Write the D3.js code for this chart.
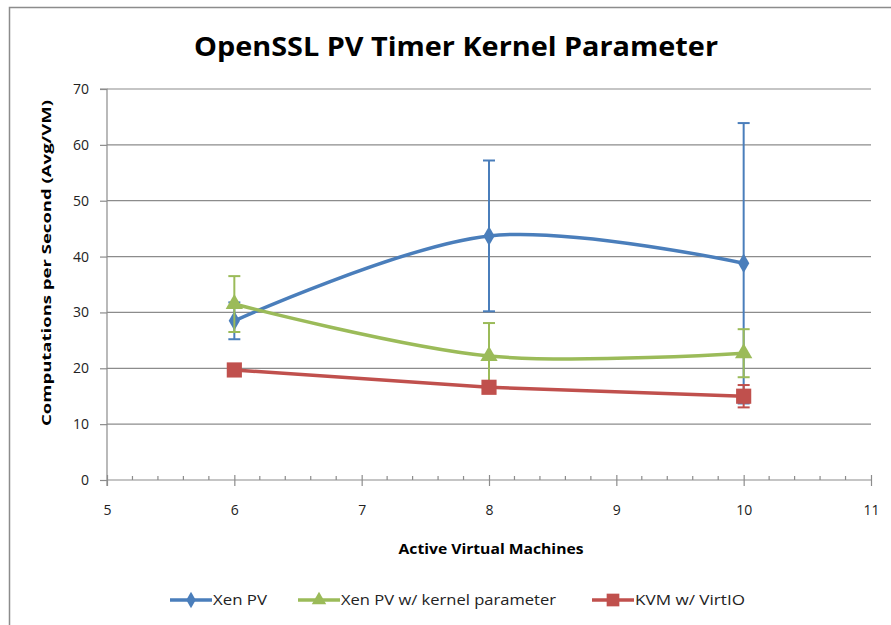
<!DOCTYPE html>
<html>
<head>
<meta charset="utf-8">
<script src="https://cdn.jsdelivr.net/npm/d3@7"></script>
<style>
  body { margin: 0; background: #fff; }
  text { font-family: "Open Sans", "Liberation Sans", sans-serif; }
</style>
</head>
<body>
<svg id="chart" width="891" height="625"></svg>
<script>
// data
const vmCounts = [6, 8, 10];
const xenPV = [28.5, 43.7, 38.8];
const xenPVErr = [3.3, 13.5, 25.1];
const xenKernel = [31.5, 22.2, 22.7];
const xenKernelErr = [5.0, 5.9, 4.3];
const kvmVirtio = [19.7, 16.6, 15.0];
const kvmVirtioErr = [0.5, 0.8, 2.0];
const xTicks = [5, 6, 7, 8, 9, 10, 11];
const yTicks = [0, 10, 20, 30, 40, 50, 60, 70];

const series = [
  { name: 'Xen PV', values: xenPV, err: xenPVErr, color: '#4a7ebb', marker: 'diamond', smooth: true },
  { name: 'Xen PV w/ kernel parameter', values: xenKernel, err: xenKernelErr, color: '#9bbb59', marker: 'triangle', smooth: true },
  { name: 'KVM w/ VirtIO', values: kvmVirtio, err: kvmVirtioErr, color: '#c0504d', marker: 'square', smooth: false }
];

const svg = d3.select('#chart');
const margin = { left: 107, right: 20, top: 89, bottom: 145 };
const width = 871 - 107;
const height = 480 - 89;

// outer chart frame (cropped on right and bottom)
svg.append('path')
  .attr('d', 'M9.5,625 L9.5,7.5 L891,7.5')
  .attr('fill', 'none')
  .attr('stroke', '#8c8c8c')
  .attr('stroke-width', 1.5);

svg.append('text')
  .attr('x', 456).attr('y', 56)
  .attr('text-anchor', 'middle')
  .attr('font-size', 27).attr('font-weight', 'bold')
  .attr('textLength', 524).attr('lengthAdjust', 'spacingAndGlyphs')
  .text('OpenSSL PV Timer Kernel Parameter');

const g = svg.append('g').attr('transform', `translate(${margin.left},${margin.top})`);

const x = d3.scaleLinear().domain([5, 11]).range([0, width]);
const y = d3.scaleLinear().domain([0, 70]).range([height, 0]);

// gridlines
g.append('g')
  .selectAll('line')
  .data(yTicks.filter(d => d > 0))
  .join('line')
  .attr('x1', 0).attr('x2', width)
  .attr('y1', d => y(d)).attr('y2', d => y(d))
  .attr('stroke', '#8c8c8c').attr('stroke-width', 1.2);

// y axis
const yAxis = g.append('g')
  .call(d3.axisLeft(y).tickValues(yTicks).tickSize(7).tickPadding(11));
yAxis.select('.domain').attr('stroke', '#8c8c8c').attr('stroke-width', 1.2)
  .attr('d', `M-7,${y(70)}H0V${height + 6}`);
yAxis.selectAll('.tick line').attr('stroke', '#8c8c8c').attr('stroke-width', 1.2);
yAxis.selectAll('.tick text').attr('font-size', 14).attr('fill', '#222').attr('font-family', '"Open Sans", sans-serif');

// x axis: minor ticks upward, major ticks crossing
const minor = d3.range(5, 11.001, 0.2).filter(v => Math.abs(v - Math.round(v)) > 0.01);
g.append('g').selectAll('line').data(minor).join('line')
  .attr('x1', d => x(d)).attr('x2', d => x(d))
  .attr('y1', height - 4).attr('y2', height)
  .attr('stroke', '#8c8c8c').attr('stroke-width', 1.2);

const xAxis = g.append('g')
  .attr('transform', `translate(0,${height})`)
  .call(d3.axisBottom(x).tickValues(xTicks).tickSize(6).tickPadding(19).tickFormat(d3.format('d')));
xAxis.select('.domain').attr('stroke', '#8c8c8c').attr('stroke-width', 1.2).attr('d', `M0,0H${width}`);
xAxis.selectAll('.tick line').attr('stroke', '#8c8c8c').attr('stroke-width', 1.2).attr('y1', -5);
xAxis.selectAll('.tick text').attr('font-size', 14).attr('fill', '#222').attr('font-family', '"Open Sans", sans-serif');

// axis titles
svg.append('text')
  .attr('x', 491).attr('y', 554)
  .attr('text-anchor', 'middle')
  .attr('font-size', 14.5).attr('font-weight', 'bold')
  .attr('textLength', 185).attr('lengthAdjust', 'spacingAndGlyphs')
  .text('Active Virtual Machines');

svg.append('text')
  .attr('transform', 'translate(51,263) rotate(-90)')
  .attr('text-anchor', 'middle')
  .attr('font-size', 12.5).attr('font-weight', 'bold')
  .attr('textLength', 326).attr('lengthAdjust', 'spacingAndGlyphs')
  .text('Computations per Second (Avg/VM)');

const symbolFor = m => m === 'diamond' ? d3.symbolDiamond : (m === 'triangle' ? d3.symbolTriangle : d3.symbolSquare);
const sizeFor = m => m === 'diamond' ? 110 : (m === 'triangle' ? 130 : 230);

series.forEach(s => {
  const pts = vmCounts.map((v, i) => ({ x: v, y: s.values[i], e: s.err[i] }));
  const line = d3.line()
    .x(d => x(d.x)).y(d => y(d.y))
    .curve(s.smooth ? d3.curveCatmullRom.alpha(0.5) : d3.curveLinear);

  // error bars
  const eb = g.append('g').attr('stroke', s.color).attr('stroke-width', 2);
  eb.selectAll('line.v').data(pts).join('line')
    .attr('x1', d => x(d.x)).attr('x2', d => x(d.x))
    .attr('y1', d => y(d.y - d.e)).attr('y2', d => y(d.y + d.e));
  eb.selectAll('line.t').data(pts).join('line')
    .attr('x1', d => x(d.x) - 6).attr('x2', d => x(d.x) + 6)
    .attr('y1', d => y(d.y + d.e)).attr('y2', d => y(d.y + d.e));
  eb.selectAll('line.b').data(pts).join('line')
    .attr('x1', d => x(d.x) - 6).attr('x2', d => x(d.x) + 6)
    .attr('y1', d => y(d.y - d.e)).attr('y2', d => y(d.y - d.e));

  g.append('path').datum(pts)
    .attr('d', line)
    .attr('fill', 'none')
    .attr('stroke', s.color)
    .attr('stroke-width', 3.5)
    .attr('stroke-linejoin', 'round');

  g.append('g').selectAll('path').data(pts).join('path')
    .attr('transform', d => `translate(${x(d.x)},${y(d.y)})`)
    .attr('d', d3.symbol().type(symbolFor(s.marker)).size(sizeFor(s.marker)))
    .attr('fill', s.color);
});

// legend
const legendX = [170, 298, 592];
const legendTextW = [54, 215, 110];
const legend = svg.append('g');
series.forEach((s, i) => {
  const lg = legend.append('g').attr('transform', `translate(${legendX[i]},600)`);
  lg.append('line').attr('x1', 0).attr('x2', 42).attr('y1', 0).attr('y2', 0)
    .attr('stroke', s.color).attr('stroke-width', 3.5);
  lg.append('path').attr('transform', 'translate(21,0)')
    .attr('d', d3.symbol().type(symbolFor(s.marker)).size(sizeFor(s.marker) * 0.7))
    .attr('fill', s.color);
  lg.append('text').attr('x', 43).attr('y', 5)
    .attr('font-size', 14.5).attr('fill', '#222')
    .attr('textLength', legendTextW[i]).attr('lengthAdjust', 'spacingAndGlyphs')
    .text(s.name);
});
</script>
</body>
</html>
